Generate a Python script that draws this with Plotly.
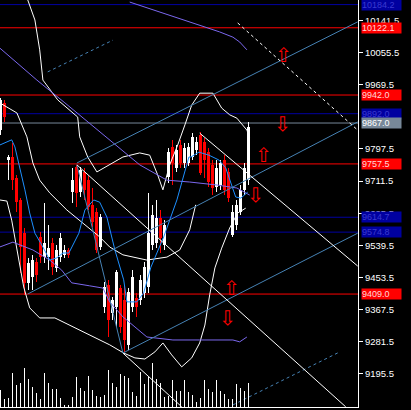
import plotly.graph_objects as go

# ---------------- candle data (bar index 0..62) ----------------
opens = [9848,9921,9768,9776,9720,9661,9573,9439,9455,9495,
         9562,9508,9508,9546,9479,9508,9514,9527,9682,9749,
         9682,9736,9715,9648,9629,9535,9374,9433,9358,9374,
         9425,9393,9273,9374,9399,9393,9412,9428,9540,9546,
         9613,9540,9723,9803,9747,9808,9760,9760,9776,9795,
         9835,9816,9789,9755,9696,9701,9768,9736,9567,9594,
         9629,9688,9715]
highs = [9935,9929,9781,9814,9728,9666,9586,9506,9514,9506,
         9575,9653,9594,9559,9540,9573,9540,9532,9747,9755,
         9749,9747,9725,9693,9640,9623,9441,9447,9401,9473,
         9433,9433,9425,9473,9412,9460,9495,9680,9648,9661,
         9634,9607,9800,9822,9808,9822,9814,9814,9840,9830,
         9843,9827,9800,9768,9768,9768,9781,9747,9648,9661,
         9701,9760,9870]
lows = [9835,9870,9715,9688,9629,9465,9407,9420,9420,9441,
        9492,9492,9473,9460,9468,9495,9506,9506,9653,9642,
        9669,9661,9634,9589,9519,9527,9358,9294,9340,9321,
        9305,9254,9259,9361,9348,9380,9399,9412,9527,9532,
        9519,9527,9706,9701,9736,9747,9747,9752,9768,9781,
        9728,9720,9696,9674,9682,9688,9674,9656,9562,9581,
        9621,9674,9701]
closes = [9929,9883,9776,9715,9656,9535,9439,9492,9500,9460,
          9508,9546,9532,9482,9527,9559,9527,9514,9715,9680,
          9741,9688,9642,9602,9527,9615,9428,9340,9393,9468,
          9321,9286,9415,9455,9374,9447,9482,9573,9621,9613,
          9559,9594,9789,9760,9795,9760,9800,9803,9830,9816,
          9733,9768,9709,9693,9747,9760,9688,9666,9629,9648,
          9688,9747,9856]
volumes = [500,230,260,1020,660,720,1160,830,610,410,
           240,1020,710,530,530,260,50,50,290,890,
           580,470,920,500,330,310,350,1100,730,590,
           980,920,860,460,330,1040,700,900,1310,830,
           730,300,320,800,470,470,800,450,360,160,
           280,800,530,440,800,470,380,240,240,680,
           580,470,720]

# ---------------- indicator lines (bar index, price) ----------------
ma_fast_x = [-0.2,2.8,3.6,4.8,6.1,7.3,8.6,10.6,12.3,14.1,15.6,17.1,19.6,21.1,23.3,24.8,26.6,28.6,
             30.8,31.6,34.1,35.8,37.6,39.1,40.8,44.1,47.1,47.6,49.6,52.1,54.6,56.3,57.6,58.8,60.1,61.8]
ma_fast_y = [9808,9822,9803,9749,9688,9626,9572,9535,9500,9506,9519,9519,9572,9634,9661,9655,9615,9527,
             9447,9388,9388,9412,9481,9519,9562,9661,9776,9776,9789,9781,9768,9747,9706,9669,9666,9682]

ma_slow_x = [-0.2,9.1,16.1,34.8,41.6,47.3,54.1,59.1,62.3]
ma_slow_y = [10068,9982,9921,9755,9714,9709,9701,9693,9674]

env_up_x = [32.3,42.3,49.8,54.8,58.1,59.8,61.6]
env_up_y = [10191,10156,10130,10111,10097,10084,10063]

env_dn_x = [-0.2,3.1,8.1,12.3,15.3,17.8,22.3,25.6,27.3,30.6,36.6,43.1,49.8,58.1,59.8,61.6]
env_dn_y = [9535,9548,9527,9500,9473,9439,9431,9425,9388,9348,9294,9286,9286,9286,9281,9294]

band_a_x = [6.8,8.6,9.8,10.6,14.3,17.8,19.3,19.8,21.8,24.1,27.3,30.6,34.8,37.3,39.3,40.6,42.3,44.3,
            46.1,47.8,49.8,53.1,55.3,57.3,59.1,61.6,62.3]
band_a_y = [10197,10143,10063,9982,9929,9897,9883,9830,9776,9736,9755,9776,9787,9781,9728,9688,9755,9808,
            9862,9915,9947,9947,9907,9889,9880,9848,9827]

band_b_x = [-0.2,4.1,6.6,8.1,9.8,12.3,16.6,21.6,24.8,27.3,30.6,36.6,41.6,44.8,47.3,48.8]
band_b_y = [9921,9894,9830,9760,9714,9680,9634,9589,9562,9535,9514,9500,9508,9527,9581,9648]

band_c_x = [-0.2,1.6,2.8,4.3,5.8,7.3,9.8,13.6,17.3,22.3,27.3,30.8,33.6,36.1,38.6,40.6,42.8,45.3,
            47.8,49.8,51.1,52.3,53.6,55.3,57.3,59.3,61.3]
band_c_y = [9661,9658,9607,9522,9428,9372,9345,9345,9326,9299,9273,9251,9238,9235,9254,9278,9246,9214,
            9238,9278,9326,9407,9479,9532,9586,9626,9639]

# ---------------- drawn objects ----------------
levels = [10184.2, 10122.1, 9942.0, 9892.0, 9867.0, 9757.5, 9614.7, 9574.8, 9409.0]
level_colors = ["#0000a0", "#ff0000", "#ff0000", "#0000a0", "#778899",
                "#ff0000", "#0000a0", "#0000a0", "#ff0000"]
level_text_colors = ["#3a3ad0", "#ffd8d8", "#ffd8d8", "#3a3ad0", "#ffffff",
                     "#ffd8d8", "#3a3ad0", "#3a3ad0", "#ffd8d8"]

trend_x0 = [19.1, 6.8, 30.6, 19.1, 11.8, 58.1, 19.1, 49.8, 59.3, 30.6]
trend_y0 = [9760, 9409, 9251, 9755, 10004, 9112, 9755, 9840, 10135, 9251]
trend_x1 = [89.3, 89.3, 89.3, 30.6, 28.1, 84.8, 86.3, 89.3, 89.3, 45.3]
trend_y1 = [10138, 9870, 9572, 9251, 10089, 9254, 9107, 9484, 9848, 9107]
trend_color = ["#4682b4"] * 6 + ["#ffffff"] * 4
trend_dash = ["solid", "solid", "solid", "solid", "dot", "dot", "solid", "solid", "dot", "solid"]

arrow_x = [70.7, 70.6, 65.8, 63.8, 57.8, 56.8]
arrow_y = [10049, 9864, 9781, 9674, 9425, 9345]
arrow_dir = ["up", "down", "up", "down", "up", "down"]

tick_vals = [10141.5, 10055.5, 9969.5, 9797.5, 9711.5, 9625.5,
             9539.5, 9453.5, 9367.5, 9281.5, 9195.5]

X_RANGE = [-0.125, 89.375]
Y_RANGE = [9106.5, 10196.5]
VOL_RANGE = [0, 12200]

fig = go.Figure()

for p, col in zip(levels, level_colors):
    fig.add_hline(y=p, line=dict(color=col, width=1), layer="below")

idx = list(range(len(opens)))
cols = ["#ffffff" if c >= o else "#ff0000" for o, c in zip(opens, closes)]

fig.add_trace(go.Bar(x=idx, y=volumes, width=0.25, marker=dict(color="#ffffff", line=dict(width=0)),
                     yaxis="y2", hoverinfo="skip"))
fig.add_trace(go.Bar(x=idx, y=[h - l for h, l in zip(highs, lows)], base=lows, width=0.25,
                     marker=dict(color=cols, line=dict(width=0)), hoverinfo="skip"))
fig.add_trace(go.Bar(x=idx, y=[max(abs(c - o), 2.5) for o, c in zip(opens, closes)],
                     base=[min(o, c) for o, c in zip(opens, closes)], width=0.75,
                     marker=dict(color=cols, line=dict(width=0)), hoverinfo="skip"))

def line(x, y, color, dash="solid", width=1):
    fig.add_trace(go.Scatter(x=x, y=y, mode="lines", line=dict(color=color, width=width, dash=dash),
                             hoverinfo="skip"))

line(band_a_x, band_a_y, "#ffffff")
line(band_b_x, band_b_y, "#ffffff")
line(band_c_x, band_c_y, "#ffffff")
line(ma_slow_x, ma_slow_y, "#7b68ee")
line(env_up_x, env_up_y, "#7b68ee")
line(env_dn_x, env_dn_y, "#7b68ee")
line(ma_fast_x, ma_fast_y, "#1e90ff")

for x0, y0, x1, y1, c, d in zip(trend_x0, trend_y0, trend_x1, trend_y1, trend_color, trend_dash):
    line([x0, x1], [y0, y1], c, d)

for ax, ay, d in zip(arrow_x, arrow_y, arrow_dir):
    fig.add_annotation(x=ax, y=ay, text="⇧" if d == "up" else "⇩", showarrow=False,
                       font=dict(color="#ff0000", size=20, family="DejaVu Sans"))

for p, bg, tc in zip(levels, level_colors, level_text_colors):
    fig.add_annotation(x=1, xref="paper", xanchor="left", xshift=3, y=p, yref="y", yanchor="middle",
                       text=f"{p:.1f}", showarrow=False, bgcolor=bg, borderpad=0, width=39,
                       align="left", font=dict(color=tc, size=9, family="Liberation Sans"))

fig.update_layout(
    width=411, height=410,
    margin=dict(l=0, r=53, t=0, b=3),
    paper_bgcolor="#000000", plot_bgcolor="#000000",
    showlegend=False, barmode="overlay", bargap=0,
    xaxis=dict(range=X_RANGE, showgrid=False, zeroline=False, showticklabels=False,
               showline=True, linecolor="#ffffff", linewidth=1, ticks=""),
    yaxis=dict(range=Y_RANGE, side="right", showgrid=False, zeroline=False,
               showline=True, linecolor="#ffffff", linewidth=1,
               tickvals=tick_vals, ticktext=[f"{v:.1f}" for v in tick_vals],
               ticks="outside", ticklen=4, tickcolor="#ffffff",
               tickfont=dict(color="#ffffff", size=9.5, family="Liberation Sans")),
    yaxis2=dict(range=VOL_RANGE, overlaying="y", visible=False),
)

fig.write_html("out.html", config={"displayModeBar": False},
               post_script="document.body.style.margin='0';document.body.style.background='#000';")
